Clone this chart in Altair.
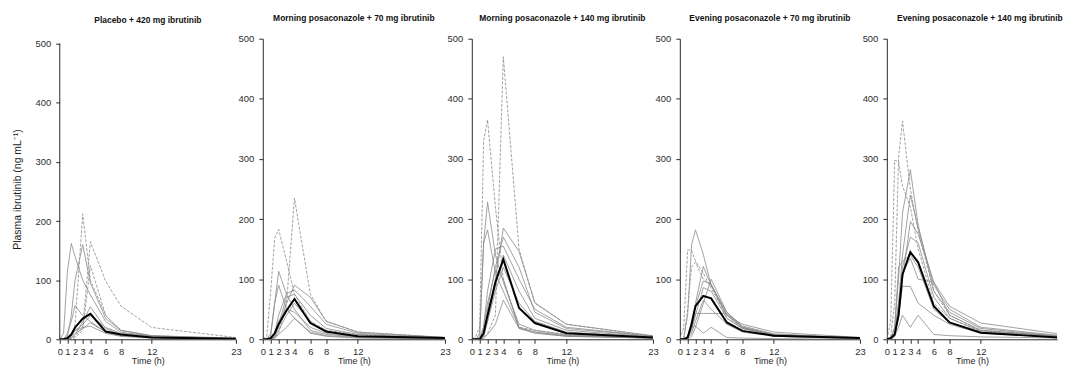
import altair as alt
import pandas as pd

# ---------------- data ----------------
TIMES = [0, 0.5, 1, 1.5, 2, 3, 4, 6, 8, 12, 23]
X_TICKS = [0, 1, 2, 3, 4, 6, 8, 12, 23]
Y_TICKS = [0, 100, 200, 300, 400, 500]

TITLES = [
    "Placebo + 420 mg ibrutinib",
    "Morning posaconazole + 70 mg ibrutinib",
    "Morning posaconazole + 140 mg ibrutinib",
    "Evening posaconazole + 70 mg ibrutinib",
    "Evening posaconazole + 140 mg ibrutinib",
]

P1_SUBJECTS = [
    [0, 10, 115, 162, 140, 100, 75, 30, 12, 5, 1],
    [0, 0, 0, 5, 25, 212, 100, 40, 15, 6, 1],
    [0, 0, 5, 40, 100, 160, 95, 35, 15, 6, 2],
    [0, 0, 0, 2, 5, 20, 165, 98, 56, 20, 3],
    [0, 0, 10, 30, 57, 40, 30, 12, 6, 3, 1],
    [0, 0, 0, 0, 3, 15, 125, 40, 15, 6, 1],
    [0, 0, 0, 5, 15, 25, 40, 20, 10, 5, 1],
    [0, 0, 0, 3, 10, 18, 28, 12, 6, 3, 1],
    [0, 0, 2, 8, 15, 20, 22, 10, 5, 2, 0.5],
    [0, 0, 0, 2, 8, 30, 55, 18, 8, 3, 1],
]
P1_MEAN = [0, 0, 2, 8, 20, 35, 43, 13, 8, 3, 1]

P2_SUBJECTS = [
    [0, 5, 80, 168, 183, 130, 75, 30, 15, 8, 2],
    [0, 0, 0, 3, 10, 60, 235, 75, 30, 12, 3],
    [0, 0, 10, 60, 113, 75, 50, 15, 8, 4, 1],
    [0, 0, 5, 60, 90, 50, 35, 12, 6, 3, 1],
    [0, 0, 0, 5, 20, 60, 90, 70, 30, 12, 3],
    [0, 0, 0, 10, 40, 76, 82, 55, 25, 10, 3],
    [0, 0, 0, 3, 15, 40, 60, 30, 12, 5, 2],
    [0, 0, 0, 2, 8, 20, 35, 10, 5, 2, 1],
    [0, 0, 2, 10, 30, 50, 45, 20, 10, 4, 1],
    [0, 0, 0, 5, 25, 70, 75, 40, 18, 8, 2],
]
P2_MEAN = [0, 0, 2, 10, 25, 48, 67, 27, 13, 5, 2]

P3_SUBJECTS = [
    [0, 0, 0, 2, 10, 40, 470, 150, 60, 25, 5],
    [0, 5, 20, 330, 365, 220, 100, 20, 15, 8, 3],
    [0, 0, 10, 160, 228, 140, 95, 25, 15, 7, 2],
    [0, 0, 5, 160, 182, 110, 80, 20, 12, 5, 2],
    [0, 0, 0, 10, 40, 100, 185, 146, 61, 25, 6],
    [0, 0, 0, 20, 80, 150, 155, 100, 50, 20, 5],
    [0, 0, 0, 10, 50, 120, 170, 120, 45, 18, 5],
    [0, 0, 0, 5, 30, 90, 140, 80, 35, 15, 4],
    [0, 0, 0, 2, 8, 25, 65, 18, 10, 5, 2],
    [0, 0, 0, 5, 30, 80, 120, 60, 30, 12, 3],
    [0, 0, 2, 20, 60, 115, 100, 18, 12, 6, 2],
]
P3_MEAN = [0, 0, 0, 10, 40, 95, 133, 52, 27, 10, 3]

P4_SUBJECTS = [
    [0, 2, 40, 157, 182, 141, 90, 40, 25, 12, 3],
    [0, 20, 149, 148, 130, 110, 85, 40, 20, 8, 2],
    [0, 0, 50, 120, 128, 100, 90, 35, 18, 7, 2],
    [0, 0, 5, 30, 60, 121, 90, 45, 20, 8, 2],
    [0, 0, 5, 25, 55, 97, 92, 40, 18, 7, 2],
    [0, 0, 2, 15, 40, 86, 80, 35, 18, 7, 2],
    [0, 0, 2, 20, 43, 43, 43, 43, 20, 5, 1],
    [0, 0, 0, 20, 22, 10, 20, 3, 2, 1, 0],
    [0, 0, 2, 10, 30, 65, 50, 25, 12, 5, 1],
    [0, 0, 0, 5, 20, 60, 100, 45, 22, 9, 2],
]
P4_MEAN = [0, 0, 3, 25, 55, 72, 68, 28, 14, 6, 2]

P5_SUBJECTS = [
    [0, 5, 60, 303, 363, 250, 180, 80, 40, 15, 4],
    [0, 30, 298, 295, 255, 220, 150, 60, 35, 12, 3],
    [0, 0, 20, 100, 210, 282, 190, 80, 45, 18, 4],
    [0, 0, 10, 60, 140, 240, 185, 90, 50, 20, 5],
    [0, 0, 5, 40, 100, 196, 175, 95, 55, 27, 7],
    [0, 0, 5, 50, 120, 170, 160, 70, 35, 14, 4],
    [0, 0, 10, 60, 110, 135, 100, 95, 40, 15, 4],
    [0, 0, 5, 40, 88, 88, 60, 40, 25, 10, 3],
    [0, 0, 5, 20, 40, 20, 40, 8, 6, 4, 2],
    [0, 0, 20, 120, 130, 140, 120, 50, 28, 12, 3],
]
P5_MEAN = [0, 2, 8, 40, 108, 145, 128, 55, 28, 11, 2]

# ---------------- styling ----------------
DASHED = [[1, 3, 5], [0, 1], [0, 1], [1, 2], [0, 1]]
WIDTHS = [177, 183, 182, 181, 171]
X_MAX = [23, 23, 23, 23, 23 * 171 / 181]   # last panel is cut by the page edge
HEIGHT = 302
P1_PLOT_HEIGHT = 297
TITLE_OFFSETS = [14, 11, 11, 11, 11]
TITLE_DX = [0, 0, 0, 0, 8]
GREY = "#8a8a8a"
AXIS_COLOR = "#2a2a2a"
LABEL_COLOR = "#2e2e2e"
FONT = "Liberation Sans, Arial, sans-serif"
Y_TITLE = "Plasma ibrutinib (ng mL\u207b\u00b9)"

panels = [
    (P1_SUBJECTS, P1_MEAN),
    (P2_SUBJECTS, P2_MEAN),
    (P3_SUBJECTS, P3_MEAN),
    (P4_SUBJECTS, P4_MEAN),
    (P5_SUBJECTS, P5_MEAN),
]


def make_panel(i, subjects, mean):
    rows = []
    for s, vals in enumerate(subjects):
        for t, v in zip(TIMES, vals):
            rows.append({"subject": s, "t": t, "conc": v, "dashed": s in DASHED[i]})
    df = pd.DataFrame(rows)
    mdf = pd.DataFrame({"t": TIMES, "conc": mean})

    ymax = 500 * HEIGHT / P1_PLOT_HEIGHT if i == 0 else 500
    x = alt.X(
        "t:Q",
        scale=alt.Scale(domain=[0, X_MAX[i]], nice=False, zero=True),
        axis=alt.Axis(values=[v for v in X_TICKS if v <= X_MAX[i]], title="Time (h)", format="d"),
    )
    yaxis_kwargs = dict(values=Y_TICKS, format="d")
    if i == 0:
        yaxis_kwargs.update(title=Y_TITLE, domain=False)
    else:
        yaxis_kwargs.update(title=None)
    y = alt.Y(
        "conc:Q",
        scale=alt.Scale(domain=[0, ymax], nice=False),
        axis=alt.Axis(**yaxis_kwargs),
    )

    base = alt.Chart(df)
    solid = (
        base.transform_filter("!datum.dashed")
        .mark_line(color=GREY, strokeWidth=0.8, clip=True)
        .encode(x=x, y=y, detail="subject:N")
    )
    dashed = (
        base.transform_filter("datum.dashed")
        .mark_line(color=GREY, strokeWidth=0.8, strokeDash=[3, 1.5], clip=True)
        .encode(x=x, y=y, detail="subject:N")
    )
    mean_line = (
        alt.Chart(mdf)
        .mark_line(color="black", strokeWidth=2, clip=True)
        .encode(x=x, y=y)
    )
    layers = [solid, dashed, mean_line]
    if i == 0:
        rdf = pd.DataFrame({"t": [0], "conc": [0], "conc2": [500]})
        rule = (
            alt.Chart(rdf)
            .mark_rule(color=AXIS_COLOR, strokeWidth=1)
            .encode(x=x, y=y, y2="conc2:Q")
        )
        layers.append(rule)

    return alt.layer(*layers).properties(
        width=WIDTHS[i],
        height=HEIGHT,
        title=alt.TitleParams(
            TITLES[i],
            font=FONT,
            fontWeight="bold",
            fontSize=8.5,
            color="#111111",
            anchor="middle",
            offset=TITLE_OFFSETS[i],
            dx=TITLE_DX[i],
        ),
    )


chart = (
    alt.hconcat(*[make_panel(i, s, m) for i, (s, m) in enumerate(panels)], spacing=27, bounds="flush")
    .properties(padding={"left": 4, "top": 5, "right": 0, "bottom": 0})
    .configure_view(stroke=None)
    .configure_axis(
        labelFont=FONT,
        labelFontSize=9.5,
        labelColor=LABEL_COLOR,
        titleFont=FONT,
        titleFontWeight="normal",
        titleColor="#1e1e1e",
        domainColor=AXIS_COLOR,
        tickColor=AXIS_COLOR,
        tickSize=4,
        grid=False,
        labelOverlap=False,
        labelFlush=False,
    )
    .configure_axisX(labelPadding=3, titlePadding=1, titleFontSize=9)
    .configure_axisY(labelPadding=5, titlePadding=12.5, titleFontSize=10.5)
)

chart.save("out.html", embed_options={"renderer": "svg", "actions": False})
